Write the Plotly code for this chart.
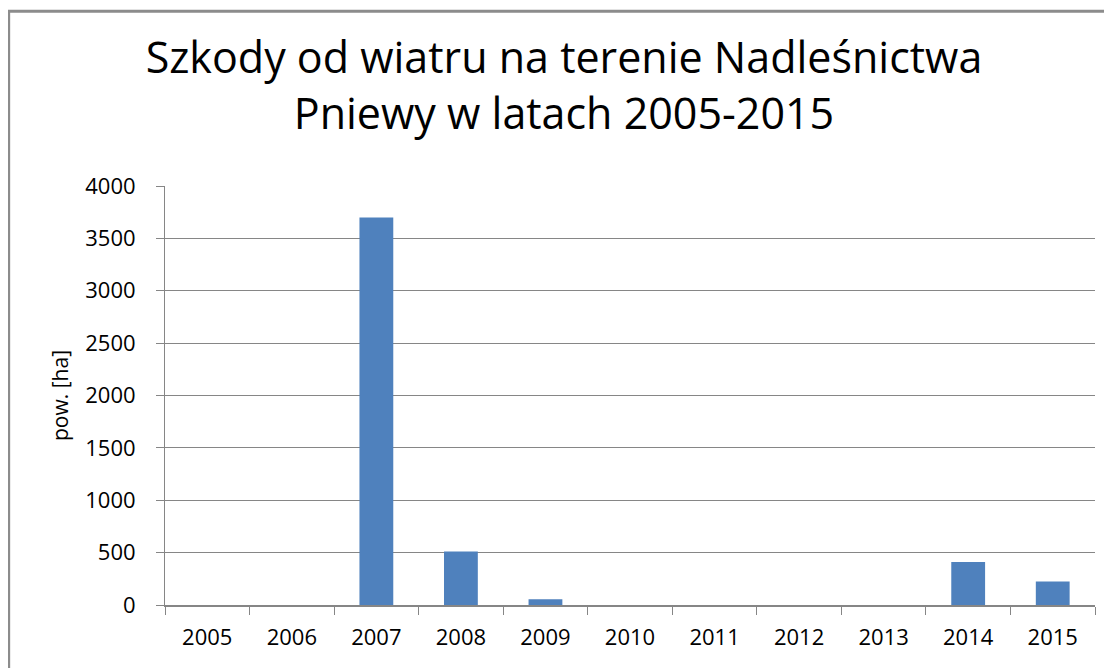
import plotly.graph_objects as go

# wind damage area per year
years = ["2005", "2006", "2007", "2008", "2009", "2010",
         "2011", "2012", "2013", "2014", "2015"]
area_ha = [0, 0, 3700, 510, 55, 0, 0, 0, 0, 410, 225]

y_ticks = [0, 500, 1000, 1500, 2000, 2500, 3000, 3500, 4000]

title_text = "Szkody od wiatru na terenie Nadleśnictwa<br>Pniewy w latach 2005-2015"
font_family = "Open Sans, DejaVu Sans, sans-serif"
axis_grey = "#868686"

fig = go.Figure()
fig.add_bar(x=years, y=area_ha, marker=dict(color="#4f81bd", line=dict(width=0)))

# page body has an 8px margin, so the figure is 8px smaller than the window
fig.update_layout(
    width=1104,
    height=660,
    margin=dict(l=157, r=17, t=178, b=63),
    paper_bgcolor="white",
    plot_bgcolor="white",
    bargap=0.6,
    showlegend=False,
    font=dict(family=font_family, color="black"),
    title=dict(
        text=title_text,
        x=0.5036,
        xanchor="center",
        y=0.902,
        yanchor="top",
        font=dict(size=43, family=font_family, color="black"),
    ),
)

fig.update_xaxes(
    type="category",
    showline=True,
    linecolor=axis_grey,
    linewidth=2,
    ticks="outside",
    tickson="boundaries",
    ticklen=8,
    tickcolor=axis_grey,
    tickfont=dict(size=22),
    ticklabelstandoff=12,
    showgrid=False,
)
fig.update_yaxes(
    range=[0, 4000],
    tickvals=y_ticks,
    showline=True,
    linecolor=axis_grey,
    linewidth=1,
    ticks="outside",
    ticklen=8,
    tickcolor=axis_grey,
    tickfont=dict(size=22),
    ticklabelstandoff=16,
    showgrid=True,
    gridcolor=axis_grey,
    gridwidth=1,
    zeroline=False,
    title=dict(text="pow. [ha]", font=dict(size=21), standoff=10),
)

# outer chart border (top and left edges visible, rest cut off)
fig.add_shape(
    type="rect",
    xref="paper",
    yref="paper",
    x0=-0.1681,
    x1=1.1,
    y0=-0.3,
    y1=1.417,
    line=dict(color="#8c8c8c", width=3),
    fillcolor="rgba(0,0,0,0)",
    layer="below",
)

fig.write_html("out.html")
